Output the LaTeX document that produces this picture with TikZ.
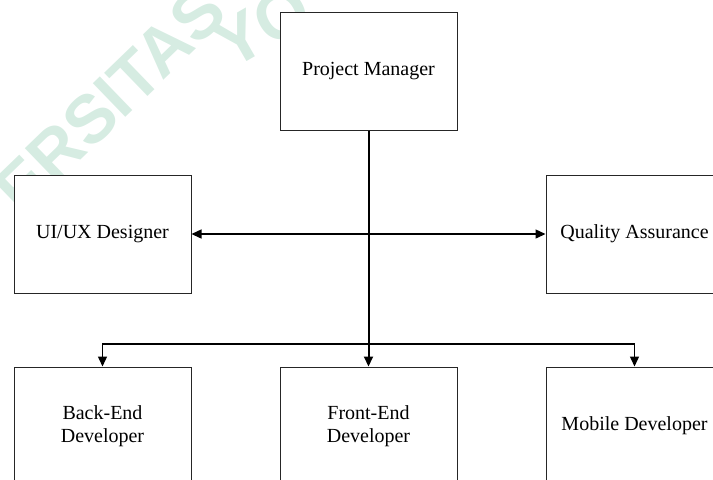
\documentclass[tikz,border=0pt]{standalone}
\usepackage{fontspec}
\setmainfont{Liberation Serif}
\newfontfamily\wmfont{Liberation Sans}
\usetikzlibrary{arrows.meta, positioning}
\definecolor{wmgreen}{RGB}{214,236,226}

\begin{document}
\begin{tikzpicture}[x=0.5pt, y=-0.5pt]
    \tikzstyle{role} = [rectangle, draw=black!85, line width=0.5pt, fill=white, minimum width=88.5pt, minimum height=59pt, inner sep=0pt, align=center, font=\fontsize{10}{11.5}\selectfont]
    \tikzstyle{link} = [line width=0.7pt, ->, >={Triangle[length=5pt, width=4.5pt]}]
    \tikzstyle{stamp} = [wmgreen, inner sep=0pt, font=\wmfont\bfseries\fontsize{34}{34}\selectfont]

    \useasboundingbox (0,0) rectangle (713,479);

    % watermark behind the chart
    \begin{scope}
        \clip (0,0) rectangle (713,479);
        \node[stamp, rotate=44] (wmleft) at (110,100) {ERSITAS};
        \node[stamp, rotate=30] (wmright) at (262,26) {YO};
    \end{scope}

    \node[role] (pm) at (368.5,71) {Project Manager};
    \node[role] (ux) at (102.5,234) {UI/UX Designer};
    \node[role] (qa) at (634.5,234) {Quality Assurance};
    \node[role] (be) at (102.5,426) {Back-End\\Developer};
    \node[role] (fe) at (368.5,426) {Front-End\\Developer};
    \node[role] (mob) at (634.5,426) {Mobile Developer};

    \coordinate (split) at (368.5,344);

    \draw[link, <->] (ux) -- (qa);
    \draw[link, line width=1pt] (pm) -- (fe);
    \draw[link] (split) -| (be);
    \draw[link] (split) -| (mob);
\end{tikzpicture}
\end{document}
